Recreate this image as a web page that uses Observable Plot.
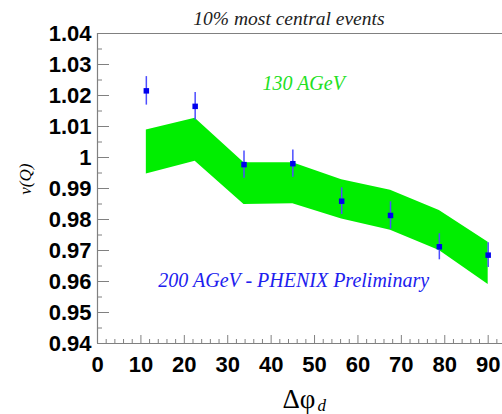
<!DOCTYPE html>
<html>
<head>
<meta charset="utf-8">
<script src="https://cdn.jsdelivr.net/npm/d3@7"></script>
<script src="https://cdn.jsdelivr.net/npm/@observablehq/plot@0.6"></script>
<style>
  html, body { margin: 0; padding: 0; background: #fff; }
  #chart svg { display: block; }
</style>
</head>
<body>
<div id="chart"></div>
<script>
// Δφ_d bin centres (degrees)
const dphi = [11.25, 22.5, 33.75, 45, 56.25, 67.5, 78.75, 90];
// 200 AGeV PHENIX Preliminary points and errors
const v200 = [1.0215, 1.0165, 0.9977, 0.9980, 0.9859, 0.9813, 0.9712, 0.9685];
const err200 = [0.0046, 0.0045, 0.0044, 0.0044, 0.0043, 0.0044, 0.0042, 0.0040];
// 130 AGeV band (lower / upper edges)
const band130Upper = [1.0089, 1.0127, 0.9983, 0.9983, 0.9928, 0.9894, 0.9829, 0.9727];
const band130Lower = [0.9947, 0.9988, 0.9848, 0.9851, 0.9802, 0.9765, 0.9700, 0.9590];
// ticks
const yMajor = [0.94, 0.95, 0.96, 0.97, 0.98, 0.99, 1.00, 1.01, 1.02, 1.03, 1.04];
const yMinor = [0.945, 0.955, 0.965, 0.975, 0.985, 0.995, 1.005, 1.015, 1.025, 1.035];
const xMajor = [0, 10, 20, 30, 40, 50, 60, 70, 80, 90];
const xMinor = [2,4,6,8,12,14,16,18,22,24,26,28,32,34,36,38,42,44,46,48,52,54,56,58,62,64,66,68,72,74,76,78,82,84,86,88,92];
// texts
const titleText = "10% most central events";
const label130 = "130 AGeV";
const label200 = "200 AGeV - PHENIX Preliminary";
const yLabel = "v(Q)";
const xLabelMain = "Δφ";
const xLabelSub = "d";

const band = dphi.map((x, i) => ({x, lo: band130Lower[i], hi: band130Upper[i]}));
const pts = dphi.map((x, i) => ({x, v: v200[i], e: err200[i]}));

const axisGray = "#808080";
const tickFont = {fontFamily: "'Liberation Sans', Arial, sans-serif", fontSize: 22, fontWeight: "bold", fill: "#000"};
const serif = "'Liberation Serif', 'Times New Roman', serif";
const fmt = d => String(+d.toFixed(2));

const chart = Plot.plot({
  width: 502,
  height: 414,
  marginLeft: 97,
  marginRight: 0,
  marginTop: 33,
  marginBottom: 71,
  x: {domain: [0, 93.3]},
  y: {domain: [0.94, 1.04]},
  style: {background: "#fff"},
  marks: [
    Plot.areaY(band, {x: "x", y1: "lo", y2: "hi", fill: "#00ee00", curve: "linear"}),
    Plot.ruleX(pts, {x: "x", y1: d => d.v - d.e, y2: d => d.v + d.e, stroke: "#4d4dff", strokeWidth: 1.5}),
    Plot.dot(pts, {x: "x", y: "v", symbol: "square", r: 3.1, fill: "#0000ee", stroke: null}),
    // frame lines
    Plot.ruleY([1.04], {stroke: axisGray, strokeWidth: 1.2}),
    Plot.ruleX([0], {stroke: axisGray, strokeWidth: 1.2}),
    Plot.ruleY([0.94], {stroke: axisGray, strokeWidth: 1.2}),
    // inward tick marks
    Plot.axisY({ticks: yMajor, tickSize: -12, tickFormat: () => "", label: null, stroke: axisGray}),
    Plot.axisY({ticks: yMinor, tickSize: -5, tickFormat: () => "", label: null, stroke: axisGray}),
    Plot.axisX({ticks: xMajor, tickSize: -8, tickFormat: () => "", label: null, stroke: axisGray}),
    Plot.axisX({ticks: xMinor, tickSize: -4, tickFormat: () => "", label: null, stroke: axisGray}),
    // tick labels
    Plot.axisY({ticks: yMajor, tickSize: 0, tickPadding: 6, tickFormat: fmt, label: null, ...tickFont}),
    Plot.axisX({ticks: xMajor, tickSize: 0, tickPadding: 13, tickFormat: fmt, label: null, ...tickFont}),
    // annotations
    Plot.text([titleText], {x: () => 44.1, frameAnchor: "top", dy: -9, lineAnchor: "bottom", text: d => d,
      fontFamily: serif, fontStyle: "italic", fontSize: 19.5, fill: "#222"}),
    Plot.text([label130], {x: () => 47.5, y: () => 1.0219, lineAnchor: "bottom", text: d => d,
      fontFamily: serif, fontStyle: "italic", fontSize: 20, fill: "#22e022"}),
    Plot.text([label200], {x: () => 45.2, y: () => 0.9582, lineAnchor: "bottom", text: d => d,
      fontFamily: serif, fontStyle: "italic", fontSize: 20, fill: "#2020ee"}),
    Plot.text([yLabel], {y: () => 0.988, frameAnchor: "left", dx: -72, rotate: -90, text: d => d,
      fontFamily: serif, fontStyle: "italic", fontSize: 17, fill: "#000"}),
    Plot.text([xLabelMain], {x: () => 46.4, frameAnchor: "bottom", dy: 64, lineAnchor: "bottom", text: d => d,
      fontFamily: serif, fontSize: 27, fill: "#000"}),
    Plot.text([xLabelSub], {x: () => 50.7, frameAnchor: "bottom", dy: 67, lineAnchor: "bottom", textAnchor: "start", text: d => d,
      fontFamily: serif, fontStyle: "italic", fontSize: 17, fill: "#000"})
  ]
});
document.getElementById("chart").appendChild(chart);
</script>
</body>
</html>
